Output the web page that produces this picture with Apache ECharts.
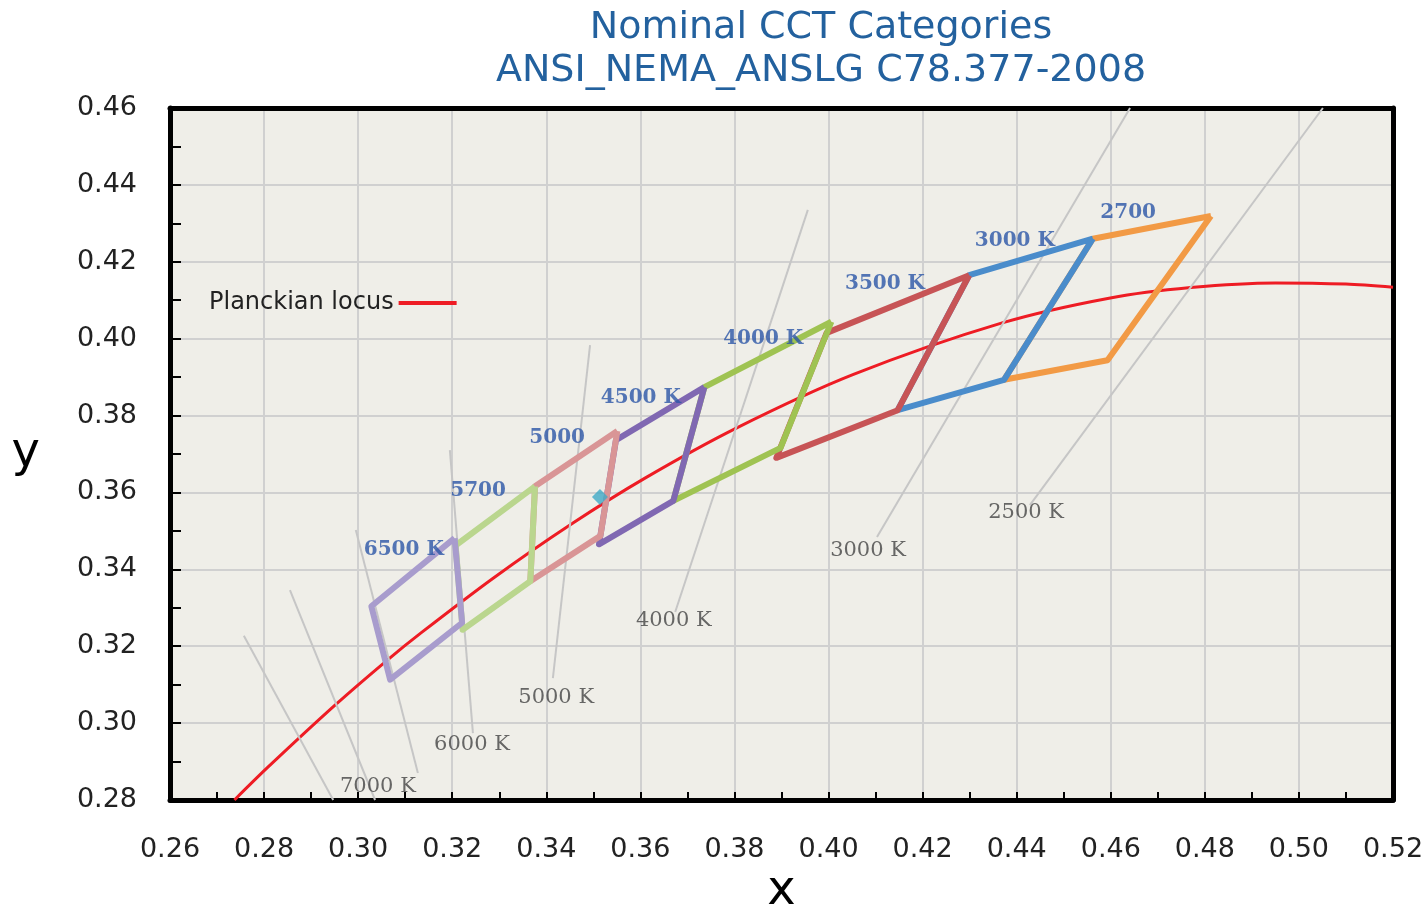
<!DOCTYPE html>
<html>
<head>
<meta charset="utf-8">
<title>Nominal CCT Categories</title>
<script src="https://cdn.jsdelivr.net/npm/echarts@6/dist/echarts.min.js"></script>
<style>
  html, body { margin: 0; padding: 0; background: #fff; }
  #chart { width: 1426px; height: 912px; }
</style>
</head>
<body>
<div id="chart"></div>
<script>
// Planckian locus, CIE 1931 (x, y)
const planckLocus = [
  [0.2737, 0.2800], [0.2807, 0.2884], [0.2952, 0.3048], [0.3064, 0.3166],
  [0.3135, 0.3236], [0.3287, 0.3377], [0.3451, 0.3516], [0.3608, 0.3636],
  [0.3805, 0.3768], [0.4053, 0.3907], [0.4369, 0.4041], [0.4599, 0.4106],
  [0.4770, 0.4133], [0.4950, 0.4145], [0.5100, 0.4142], [0.5200, 0.4134]
];

// ANSI C78.377-2008 quadrangles (closed)
const quad2700 = [[0.4813, 0.4319], [0.4562, 0.4260], [0.4373, 0.3893], [0.4593, 0.3944], [0.4813, 0.4319]];
const quad3000 = [[0.4562, 0.4260], [0.4299, 0.4165], [0.4147, 0.3814], [0.4373, 0.3893], [0.4562, 0.4260]];
const quad3500 = [[0.4299, 0.4165], [0.3996, 0.4015], [0.3889, 0.3690], [0.4147, 0.3814], [0.4299, 0.4165]];
const quad4000 = [[0.4006, 0.4044], [0.3736, 0.3874], [0.3670, 0.3578], [0.3898, 0.3716], [0.4006, 0.4044]];
const quad4500 = [[0.3736, 0.3874], [0.3548, 0.3736], [0.3512, 0.3465], [0.3670, 0.3578], [0.3736, 0.3874]];
const quad5000 = [[0.3551, 0.3760], [0.3376, 0.3616], [0.3366, 0.3369], [0.3515, 0.3487], [0.3551, 0.3760]];
const quad5700 = [[0.3376, 0.3616], [0.3207, 0.3462], [0.3222, 0.3243], [0.3366, 0.3369], [0.3376, 0.3616]];
const quad6500 = [[0.3205, 0.3481], [0.3028, 0.3304], [0.3068, 0.3113], [0.3221, 0.3261], [0.3205, 0.3481]];

const quads = [quad2700, quad3000, quad3500, quad4000, quad4500, quad5000, quad5700, quad6500];
const quadColors = ['#f29a45', '#4a8ccb', '#c75456', '#9fc352', '#8068b2', '#d99596', '#bad68e', '#a89ccd'];

const catLabels = ['2700', '3000 K', '3500 K', '4000 K', '4500 K', '5000', '5700', '6500 K'];
const catLabelPos = [
  [0.4637, 0.4327], [0.4396, 0.4254], [0.4120, 0.4142], [0.3861, 0.3999],
  [0.3601, 0.3846], [0.3423, 0.3742], [0.3255, 0.3604], [0.3097, 0.3450]
];

// iso-temperature lines
const isotherms = [
  [[0.2757, 0.3227], [0.2947, 0.2800]],
  [[0.2855, 0.3346], [0.3036, 0.2800]],
  [[0.2995, 0.3502], [0.3127, 0.2870]],
  [[0.3195, 0.3710], [0.3244, 0.2974]],
  [[0.3493, 0.3983], [0.3414, 0.3117]],
  [[0.3956, 0.4335], [0.3674, 0.3289]],
  [[0.4641, 0.4600], [0.4103, 0.3484]],
  [[0.5051, 0.4600], [0.4428, 0.3567]]
];
const isoLabels = ['7000 K', '6000 K', '5000 K', '4000 K', '3000 K', '2500 K'];
const isoLabelPos = [
  [0.3042, 0.2834], [0.3242, 0.2943], [0.3421, 0.3066],
  [0.3671, 0.3266], [0.4084, 0.3448], [0.4420, 0.3549]
];

const markerPoint = [[0.3514, 0.3588]];

const chart = echarts.init(document.getElementById('chart'));

const series = [];
series.push({
  name: 'Planckian locus',
  type: 'line',
  data: planckLocus,
  smooth: 0.3,
  symbol: 'none',
  lineStyle: { color: '#ee1c24', width: 3 },
  itemStyle: { color: '#ee1c24' },
  z: 2
});
isotherms.forEach(function (seg) {
  series.push({
    type: 'line', data: seg, symbol: 'none', silent: true,
    lineStyle: { color: '#c6c6c6', width: 2 }, z: 3
  });
});
quads.forEach(function (q, i) {
  series.push({
    type: 'line', data: q, symbol: 'none',
    lineStyle: { color: quadColors[i], width: 6, join: 'round' }, z: 4
  });
});
series.push({
  type: 'scatter',
  data: markerPoint,
  symbol: 'diamond',
  symbolSize: 16,
  itemStyle: { color: '#3fa9c6' },
  z: 5
});
series.push({
  type: 'scatter',
  symbolSize: 0,
  data: isoLabels.map(function (t, i) { return { name: t, value: isoLabelPos[i] }; }),
  label: {
    show: true, position: 'inside', formatter: '{b}',
    color: '#444', fontFamily: 'DejaVu Serif', fontSize: 21
  },
  z: 6
});
series.push({
  type: 'scatter',
  symbolSize: 0,
  data: catLabels.map(function (t, i) { return { name: t, value: catLabelPos[i] }; }),
  label: {
    show: true, position: 'inside', formatter: '{b}',
    color: '#2b55a6', fontFamily: 'DejaVu Serif', fontSize: 20, fontWeight: 'bold'
  },
  z: 6
});

const frameAxis = {
  show: true,
  axisLine: { show: true, onZero: false, lineStyle: { color: '#000', width: 5 } },
  axisTick: { show: false },
  axisLabel: { show: false },
  splitLine: { show: false }
};

chart.setOption({
  animation: false,
  title: {
    text: 'Nominal CCT Categories\nANSI_NEMA_ANSLG C78.377-2008',
    left: 816,
    top: 2,
    textAlign: 'center',
    textStyle: {
      color: '#23619e', fontFamily: 'DejaVu Sans', fontSize: 38,
      fontWeight: 'normal', lineHeight: 43, align: 'center'
    }
  },
  legend: {
    data: ['Planckian locus'],
    left: 204, top: 286,
    align: 'right',
    icon: 'rect',
    itemWidth: 58, itemHeight: 4,
    textStyle: { fontFamily: 'DejaVu Sans', fontSize: 24, color: '#222' }
  },
  grid: {
    left: 170, right: 33, top: 108, bottom: 112,
    outerBoundsMode: 'none',
    containLabel: false,
    show: true, backgroundColor: '#efeee8',
    borderColor: '#000', borderWidth: 0
  },
  xAxis: [{
    type: 'value', min: 0.26, max: 0.52, interval: 0.02,
    name: 'x', nameLocation: 'middle', nameGap: 68,
    nameTextStyle: { fontFamily: 'DejaVu Sans', fontSize: 48, color: '#000' },
    axisLine: { onZero: false, lineStyle: { color: '#000', width: 5 } },
    axisTick: { inside: true, length: 8, lineStyle: { color: '#000', width: 2 } },
    minorTick: { show: true, splitNumber: 2, length: 8, lineStyle: { color: '#000', width: 2 } },
    splitLine: { lineStyle: { color: '#d0d0d0', width: 2 } },
    axisLabel: {
      margin: 36, fontFamily: 'DejaVu Sans', fontSize: 27, color: '#222',
      formatter: function (v) { return v.toFixed(2); }
    }
  }, Object.assign({ type: 'value', min: 0.26, max: 0.52, position: 'top' }, frameAxis)],
  yAxis: [{
    type: 'value', min: 0.28, max: 0.46, interval: 0.02,
    name: 'y', nameLocation: 'middle', nameGap: 130, nameRotate: 0,
    nameTextStyle: { fontFamily: 'DejaVu Sans', fontSize: 48, color: '#000', padding: [0, 0, 24, 0] },
    axisLine: { onZero: false, lineStyle: { color: '#000', width: 5 } },
    axisTick: { inside: true, length: 11, lineStyle: { color: '#000', width: 2 } },
    minorTick: { show: true, splitNumber: 2, length: 11, lineStyle: { color: '#000', width: 2 } },
    splitLine: { lineStyle: { color: '#d0d0d0', width: 2 } },
    axisLabel: {
      margin: 33, fontFamily: 'DejaVu Sans', fontSize: 27, color: '#222',
      formatter: function (v) { return v.toFixed(2); }
    }
  }, Object.assign({ type: 'value', min: 0.28, max: 0.46, position: 'right' }, frameAxis)],
  series: series
});
</script>
</body>
</html>
